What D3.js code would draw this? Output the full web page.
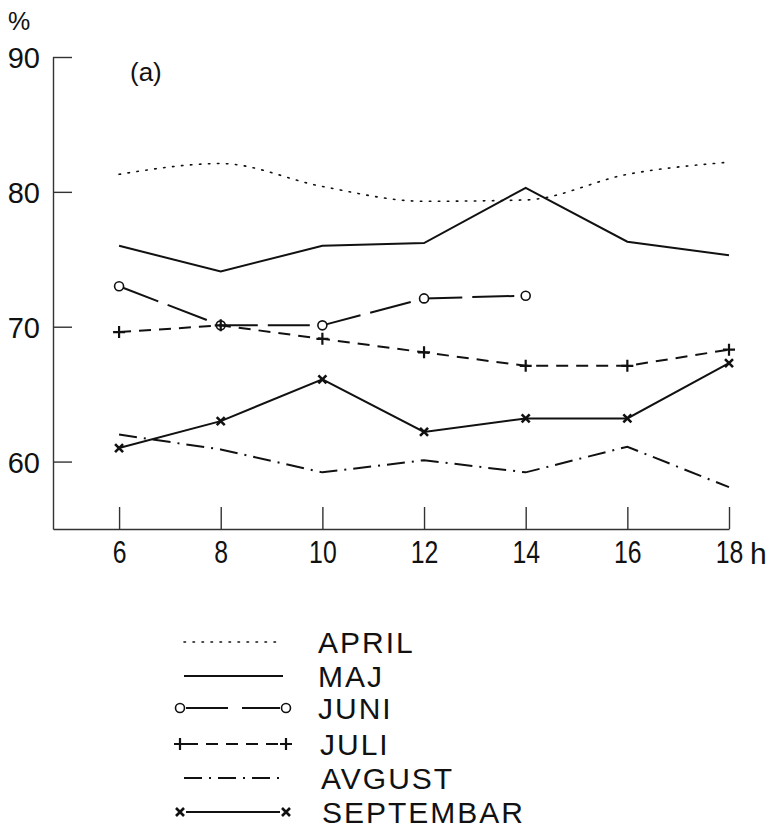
<!DOCTYPE html>
<html>
<head>
<meta charset="UTF-8">
<title>Relativna vlaga po satima (a)</title>
<script src="https://cdn.jsdelivr.net/npm/d3@7"></script>
<style>
  body { margin: 0; background: #fff; }
  text { font-family: "Liberation Sans", Arial, sans-serif; fill: #111; }
</style>
</head>
<body>
<div id="chart"></div>
<script>
// hours of the day
var hours = [6, 8, 10, 12, 14, 16, 18];

// monthly mean values, %
var april     = [81.3, 82.1, 80.4, 79.3, 79.4, 81.3, 82.2];
var maj       = [76.0, 74.1, 76.0, 76.2, 80.3, 76.3, 75.3];
var juni      = [73.0, 70.1, 70.1, 72.1, 72.3, null, null];
var juli      = [69.6, 70.1, 69.1, 68.1, 67.1, 67.1, 68.3];
var avgust    = [62.0, 60.9, 59.2, 60.1, 59.2, 61.1, 58.1];
var septembar = [61.0, 63.0, 66.1, 62.2, 63.2, 63.2, 67.3];

var yTicks = [60, 70, 80, 90];
var monthNames = ["APRIL", "MAJ", "JUNI", "JULI", "AVGUST", "SEPTEMBAR"];

// line style per month: dash, marker, curve
var series = [
  { name: "APRIL",     values: april,     dash: "1.5,7.5", width: 1.6, marker: null,     smooth: true },
  { name: "MAJ",       values: maj,       dash: null,      width: 2,   marker: null },
  { name: "JUNI",      values: juni,      dash: "42,10",   width: 2,   marker: "circle" },
  { name: "JULI",      values: juli,      dash: "12,8",    width: 2,   marker: "plus" },
  { name: "AVGUST",    values: avgust,    dash: "18,7,2,7", width: 2,  marker: null },
  { name: "SEPTEMBAR", values: septembar, dash: null,      width: 2,   marker: "cross" }
];

var svg = d3.select("#chart").append("svg")
    .attr("width", 772).attr("height", 833);

var x = d3.scaleLinear().domain([4.7, 18]).range([53, 729]);
var y = d3.scaleLinear().domain([55, 90]).range([529, 57]);

// y axis, ticks pointing inward
var yAxis = svg.append("g")
    .attr("transform", "translate(53,0)")
    .call(d3.axisLeft(y).tickValues(yTicks).tickSizeInner(-19).tickSizeOuter(0).tickPadding(13));
yAxis.selectAll("text").style("font-size", "29px").attr("dy", "0.36em");

// x axis, ticks pointing up; digits are narrow in the original
var xAxis = svg.append("g")
    .attr("transform", "translate(0,529)")
    .call(d3.axisBottom(x).tickValues(hours).tickSizeInner(-22).tickSizeOuter(0).tickPadding(12));
xAxis.selectAll("text")
    .style("font-size", "31px")
    .attr("transform", "scale(0.8,1)")
    .attr("dy", "0.71em");

svg.selectAll(".domain, .tick line").attr("stroke", "#333").attr("stroke-width", 1.4);

svg.append("text").attr("x", x(18) + 21).attr("y", 564)
    .style("font-size", "30px").text("h");
svg.append("text").attr("x", 8).attr("y", 30)
    .style("font-size", "25px").text("%");
svg.append("text").attr("x", 130).attr("y", 81)
    .style("font-size", "26px").text("(a)");

function drawMarker(g, type, cx, cy) {
  if (type === "circle") {
    g.append("circle").attr("cx", cx).attr("cy", cy).attr("r", 4.5)
      .attr("fill", "#fff").attr("stroke", "#111").attr("stroke-width", 1.6);
  } else if (type === "plus") {
    g.append("path").attr("d", "M" + (cx - 6) + "," + cy + "h12M" + cx + "," + (cy - 6) + "v12")
      .attr("stroke", "#111").attr("stroke-width", 2.2);
  } else if (type === "cross") {
    g.append("path").attr("d", "M" + (cx - 4) + "," + (cy - 4) + "l8,8M" + (cx - 4) + "," + (cy + 4) + "l8,-8")
      .attr("stroke", "#111").attr("stroke-width", 2.6);
  }
}

series.forEach(function(s) {
  var pts = hours.map(function(h, i) { return { h: h, v: s.values[i] }; })
                 .filter(function(d) { return d.v != null; });
  var line = d3.line()
      .x(function(d) { return x(d.h); })
      .y(function(d) { return y(d.v); })
      .curve(s.smooth ? d3.curveMonotoneX : d3.curveLinear);
  var g = svg.append("g");
  g.append("path").datum(pts)
      .attr("d", line)
      .attr("fill", "none")
      .attr("stroke", "#111")
      .attr("stroke-width", s.width)
      .attr("stroke-dasharray", s.dash)
      .attr("stroke-linecap", s.smooth ? "round" : "butt");
  if (s.marker) {
    pts.forEach(function(d) { drawMarker(g, s.marker, x(d.h), y(d.v)); });
  }
});

// legend
var legRows = [642, 676, 708, 744, 778, 812];
var legend = svg.append("g");
series.forEach(function(s, i) {
  var ly = legRows[i];
  var x0 = s.marker ? 180 : 184, x1 = s.marker ? 286 : 283;
  legend.append("line")
      .attr("x1", s.marker ? x0 + 6 : x0).attr("x2", s.marker ? x1 - 6 : x1)
      .attr("y1", ly).attr("y2", ly)
      .attr("stroke", "#111")
      .attr("stroke-width", s.width)
      .attr("stroke-dasharray", s.name === "JUNI" ? "42,14" : s.dash)
      .attr("stroke-linecap", s.smooth ? "round" : "butt");
  if (s.marker) {
    drawMarker(legend, s.marker, x0, ly);
    drawMarker(legend, s.marker, x1, ly);
  }
  legend.append("text")
      .attr("x", 318 + (i > 2 ? i - 1 : 0))
      .attr("y", ly + 11)
      .style("font-size", "30px")
      .style("letter-spacing", "2px")
      .text(monthNames[i]);
});
</script>
</body>
</html>
